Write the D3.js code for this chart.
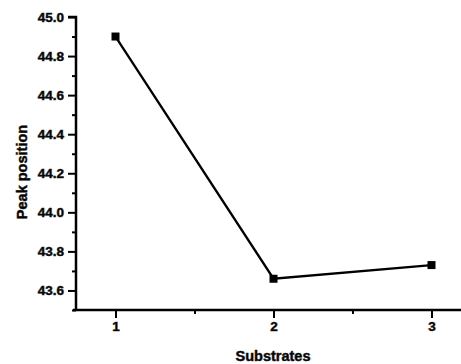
<!DOCTYPE html>
<html>
<head>
<meta charset="utf-8">
<script src="https://cdn.jsdelivr.net/npm/d3@7"></script>
<style>
  html, body { margin: 0; padding: 0; background: #fff; }
  svg { display: block; }
  text { font-family: "Liberation Sans", Arial, sans-serif; font-weight: 700; fill: #000; }
</style>
</head>
<body>
<svg id="chart" width="461" height="364"></svg>
<script>
// Peak position measured on each substrate
const substrates = [1, 2, 3];
const peakPosition = [44.90, 43.66, 43.73];
const yTicks = [43.6, 43.8, 44.0, 44.2, 44.4, 44.6, 44.8, 45.0];
const xTicks = [1, 2, 3];
const xTitle = "Substrates";
const yTitle = "Peak position";

const svg = d3.select("#chart");
const x = d3.scaleLinear().domain([0.75, 3.25]).range([76, 471]);
const y = d3.scaleLinear().domain([43.5, 45.0]).range([310, 17]);

// minor ticks halfway between the major ones
const yMinor = d3.range(43.5, 45.0, 0.1).map(v => +v.toFixed(1)).filter(v => !yTicks.includes(v));
const xMinor = [1.5, 2.5];

const fontFamily = "'Liberation Sans', Arial, sans-serif";

const yAxis = svg.append("g").attr("transform", `translate(${x.range()[0]},0)`)
  .call(d3.axisLeft(y).tickValues(yTicks).tickFormat(d3.format(".1f")).tickSize(8).tickPadding(4));
svg.append("g").attr("transform", `translate(${x.range()[0]},0)`)
  .call(d3.axisLeft(y).tickValues(yMinor).tickSize(4).tickFormat(""))
  .call(g => g.select(".domain").remove());

const xAxis = svg.append("g").attr("transform", `translate(0,${y.range()[0]})`)
  .call(d3.axisBottom(x).tickValues(xTicks).tickFormat(d3.format("d")).tickSize(8).tickPadding(3));
svg.append("g").attr("transform", `translate(0,${y.range()[0]})`)
  .call(d3.axisBottom(x).tickValues(xMinor).tickSize(4).tickFormat(""))
  .call(g => g.select(".domain").remove());

[yAxis, xAxis].forEach(g => g
  .attr("font-family", fontFamily)
  .attr("font-size", 13.5)
  .attr("font-weight", "bold"));

svg.selectAll(".domain").attr("stroke-width", 2.5).attr("stroke", "#000");
svg.selectAll(".tick line").attr("stroke-width", 2).attr("stroke", "#000");
svg.selectAll(".tick text")
  .style("font-size", "13.5px")
  .style("font-weight", "bold")
  .style("font-family", fontFamily)
  .attr("fill", "#1a1a1a")
  .attr("stroke", "#1a1a1a")
  .attr("stroke-width", 0.5);
// axes meet at the corner without end stubs
yAxis.select(".domain").attr("d", `M0,${y.range()[0]}V${y.range()[1]}H-8`);
xAxis.select(".domain").attr("d", `M${x.range()[0] - 3},0H${x.range()[1]}`);

const pts = substrates.map((s, i) => ({ s, v: peakPosition[i] }));

svg.append("path")
  .datum(pts)
  .attr("fill", "none")
  .attr("stroke", "#000")
  .attr("stroke-width", 2.3)
  .attr("d", d3.line().x(d => x(d.s)).y(d => y(d.v)));

svg.selectAll("rect.marker")
  .data(pts)
  .join("rect")
  .attr("class", "marker")
  .attr("x", d => x(d.s) - 4)
  .attr("y", d => y(d.v) - 4)
  .attr("width", 8)
  .attr("height", 8)
  .attr("fill", "#000");

svg.append("text")
  .attr("x", 273)
  .attr("y", 361)
  .attr("text-anchor", "middle")
  .style("font-size", "14.5px")
  .attr("fill", "#1a1a1a")
  .attr("stroke", "#1a1a1a")
  .attr("stroke-width", 0.5)
  .text(xTitle);

svg.append("text")
  .attr("transform", "translate(27,172) rotate(-90)")
  .attr("text-anchor", "middle")
  .style("font-size", "14.5px")
  .attr("fill", "#1a1a1a")
  .attr("stroke", "#1a1a1a")
  .attr("stroke-width", 0.5)
  .text(yTitle);
</script>
</body>
</html>
